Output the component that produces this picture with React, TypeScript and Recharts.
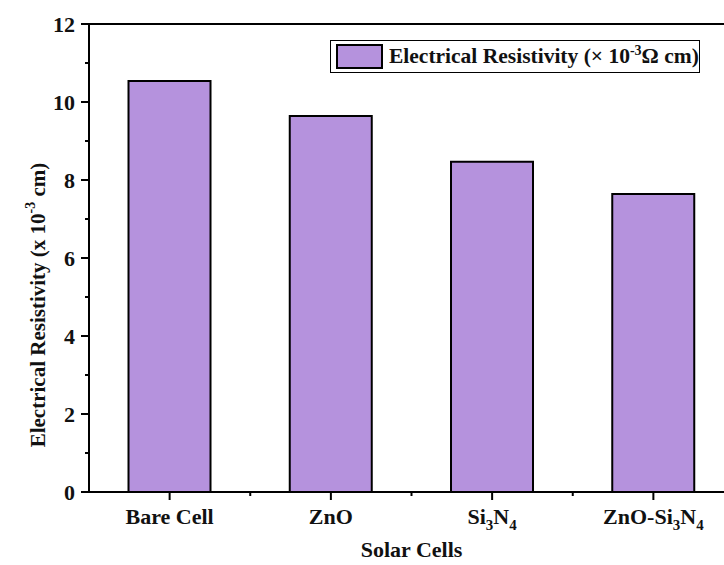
import React from "react";
import { BarChart, Bar, XAxis, YAxis, Legend, ReferenceLine, Label } from "recharts";

const categories = ["Bare Cell", "ZnO", "Si_3N_4", "ZnO-Si_3N_4"];
const resistivity = [10.54, 9.64, 8.47, 7.64];
const yTicks = [0, 1, 2, 3, 4, 5, 6, 7, 8, 9, 10, 11, 12];

const data = categories.map((c, i) => ({ name: c, value: resistivity[i] }));

const FONT = "'Liberation Serif', 'Times New Roman', serif";
const BAR_FILL = "#b592dd";

function renderParts(label: string) {
  const parts = label.split(/_(\d)/);
  const out: React.ReactNode[] = [];
  let shifted = false;
  parts.forEach((p, i) => {
    if (i % 2 === 1) {
      out.push(
        <tspan key={i} dy={6} fontSize={15}>
          {p}
        </tspan>
      );
      shifted = true;
    } else if (p.length) {
      out.push(
        <tspan key={i} dy={shifted ? -6 : 0}>
          {p}
        </tspan>
      );
      shifted = false;
    }
  });
  return out;
}

const XTick = (props: any) => {
  const { x, y, payload, index, width, visibleTicksCount } = props;
  const band = width / (visibleTicksCount || categories.length);
  return (
    <g>
      <line x1={x} x2={x} y1={y} y2={y + 8} stroke="#000" strokeWidth={2} />
      {index > 0 && (
        <line x1={x - band / 2} x2={x - band / 2} y1={y} y2={y + 4} stroke="#000" strokeWidth={2} />
      )}
      <text
        x={x}
        y={y + 32}
        textAnchor="middle"
        fontFamily={FONT}
        fontWeight="bold"
        fontSize={22}
        fill="#111"
      >
        {renderParts(payload.value)}
      </text>
    </g>
  );
};

const YTick = (props: any) => {
  const { x, y, payload } = props;
  const major = payload.value % 2 === 0;
  return (
    <g>
      <line x1={x} x2={x - (major ? 8 : 4)} y1={y} y2={y} stroke="#000" strokeWidth={2} />
      {major && (
        <text
          x={x - 14}
          y={y}
          textAnchor="end"
          dominantBaseline="central"
          fontFamily={FONT}
          fontWeight="bold"
          fontSize={22}
          fill="#111"
        >
          {payload.value}
        </text>
      )}
    </g>
  );
};

const LegendBox = () => (
  <div
    style={{
      width: 368,
      height: 31,
      border: "1px solid #000",
      background: "#fff",
      display: "flex",
      alignItems: "center",
      fontFamily: FONT,
      fontWeight: "bold",
      fontSize: 21.5,
      color: "#111",
      whiteSpace: "nowrap",
    }}
  >
    <div
      style={{
        width: 43,
        height: 21,
        marginLeft: 5,
        marginRight: 6,
        background: BAR_FILL,
        border: "2px solid #000",
      }}
    />
    <span>
      Electrical Resistivity (× 10
      <sup style={{ fontSize: 14, verticalAlign: 0, position: "relative", top: -8 }}>-3</sup>Ω cm)
    </span>
  </div>
);

export default function App() {
  return (
    <div
      style={{
        position: "absolute",
        left: 0,
        top: 0,
        width: 724,
        height: 565,
        overflow: "hidden",
        background: "#fff",
      }}
    >
      <BarChart
        width={760}
        height={565}
        data={data}
        margin={{ top: 24, right: 26, left: 0, bottom: 3 }}
        barCategoryGap="24.5%"
      >
        <XAxis
          dataKey="name"
          height={70}
          axisLine={{ stroke: "#000", strokeWidth: 2 }}
          tickLine={false}
          tickSize={0}
          tickMargin={0}
          interval={0}
          tick={<XTick />}
        >
          <Label
            content={(p: any) => {
              const vb = p.viewBox || {};
              return (
                <text
                  x={vb.x + vb.width / 2}
                  y={557}
                  textAnchor="middle"
                  fontFamily={FONT}
                  fontWeight="bold"
                  fontSize={22}
                  fill="#111"
                >
                  Solar Cells
                </text>
              );
            }}
          />
        </XAxis>
        <YAxis
          width={89}
          domain={[0, 12]}
          ticks={yTicks}
          interval={0}
          axisLine={{ stroke: "#000", strokeWidth: 2 }}
          tickLine={false}
          tickSize={0}
          tickMargin={0}
          tick={<YTick />}
        >
          <Label
            content={() => (
              <text
                x={38}
                y={305}
                transform="rotate(-90 38 305)"
                textAnchor="middle"
                dominantBaseline="central"
                fontFamily={FONT}
                fontWeight="bold"
                fontSize={21}
                fill="#111"
              >
                Electrical Resistivity (x 10
                <tspan dy={-8} fontSize={14}>
                  -3
                </tspan>
                <tspan dy={8}>{"  cm)"}</tspan>
              </text>
            )}
          />
        </YAxis>
        <ReferenceLine y={12} stroke="#000" strokeWidth={2} ifOverflow="extendDomain" />
        <Legend
          layout="vertical"
          verticalAlign="middle"
          align="center"
          wrapperStyle={{ top: 40, left: 330, width: "auto" }}
          content={<LegendBox />}
        />
        <Bar
          dataKey="value"
          fill={BAR_FILL}
          stroke="#000"
          strokeWidth={2}
          isAnimationActive={false}
        />
      </BarChart>
    </div>
  );
}
